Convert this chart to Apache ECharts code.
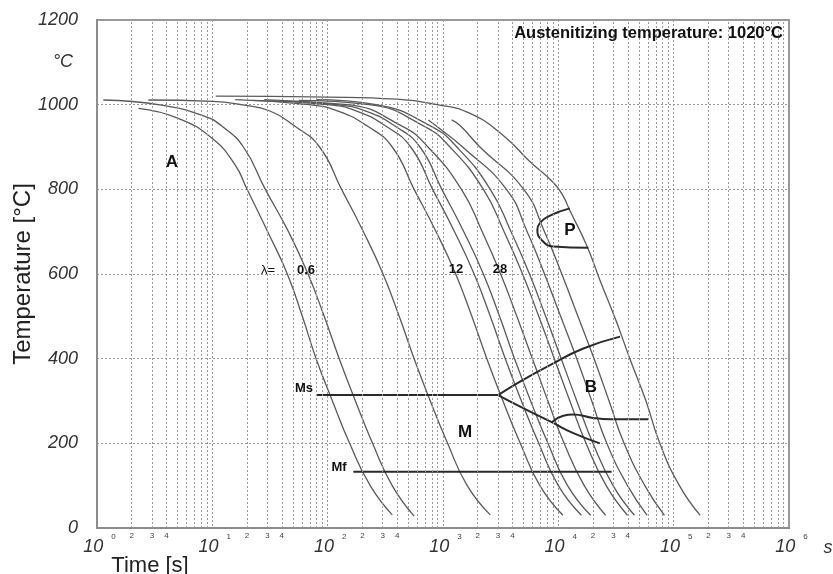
<!DOCTYPE html>
<html>
<head>
<meta charset="utf-8">
<script src="https://cdn.jsdelivr.net/npm/echarts@6/dist/echarts.min.js"></script>
<style>
  html, body { margin: 0; padding: 0; background: #fff; }
  #chart { width: 833px; height: 574px; }
</style>
</head>
<body>
<div id="chart"></div>
<script>
// cooling curves, [time s, temperature °C]
var curveL1 = [[2.29,991],[5.01,968],[10,920],[15.8,857],[20,800],[30.2,700],[44.7,600],[60.3,500],[79.4,400],[110,300],[155,200],[234,100],[363,31]];
var curveL2 = [[1.135,1011],[3.63,999],[8.71,972],[12,950],[18.6,900],[28.8,800],[45.7,700],[67.6,600],[93.3,500],[126,400],[174,300],[245,200],[363,100],[562,28]];
var curveL3 = [[2.79,1011],[10,1008],[17.8,1000],[31.6,985],[51.3,950],[85.1,900],[132,800],[204,700],[302,600],[417,500],[562,400],[776,300],[1096,200],[1622,100],[2570,31]];
var curveR1 = [[15.8,1012],[69.2,1000],[123,985],[219,950],[363,900],[562,800],[871,700],[1288,600],[1778,500],[2399,400],[3311,300],[4677,200],[6918,100],[10965,30]];
var curveR2 = [[22.4,1010],[100,1000],[178,985],[316,950],[525,900],[813,800],[1259,700],[1862,600],[2570,500],[3467,400],[4786,300],[6761,200],[10000,100],[15849,30]];
var curveR3 = [[28.2,1012],[120,1000],[214,985],[380,950],[631,900],[977,800],[1514,700],[2239,600],[3090,500],[4169,400],[5754,300],[8128,200],[12023,100],[19055,30]];
var curveR4 = [[39.8,1008],[148,1000],[437,950],[741,900],[1445,800],[2188,700],[3162,600],[4365,500],[5957,400],[8128,300],[11220,200],[16788,100],[25704,30]];
var curveR5 = [[56.2,1010],[229,1000],[676,950],[1148,900],[2239,800],[3388,700],[4898,600],[6761,500],[9226,400],[12589,300],[17378,200],[26002,100],[39811,30]];
var curveR6 = [[79.4,1012],[263,1000],[776,950],[1318,900],[2570,800],[3890,700],[5623,600],[7762,500],[10593,400],[14454,300],[19953,200],[29854,100],[45709,30]];
var curveR7 = [[746,964],[871,950],[1479,900],[3548,800],[5370,700],[7586,600],[10471,500],[14454,400],[19498,300],[26303,200],[39811,100],[58884,30]];
var curveR8 = [[1189,964],[1413,950],[2089,900],[5012,800],[7586,700],[10715,600],[14791,500],[20417,400],[27542,300],[37154,200],[56234,100],[83176,30]];
var curveR9 = [[10.7,1020],[100,1018],[398,1013],[891,1000],[1698,980],[3311,928],[5689,865],[9120,815],[10965,785],[12589,750],[17579,668],[22909,586],[31623,490],[41687,400],[57544,300],[75858,200],[112202,100],[169824,30]];

// transformation lines
var msLine = [[80.4,314],[3000,314]];
var mfLine = [[167,133],[28973,133]];
var bainiteStart = [[3000,314],[4656,346],[8472,385],[16482,424],[34277,452]];
var bainiteLower = [[3000,314],[5309,279],[8750,250],[13490,224],[22909,200]];
var bainiteFinish = [[8750,250],[11041,265],[13490,268],[19953,260],[28054,257],[60256,257]];
var pearlite = [[12589,755],[8472,738],[6918,720],[6577,704],[7178,680],[9057,665],[18197,662]];

var decades = [1, 10, 100, 1000, 10000, 100000];
var minorSteps = [2, 3, 4, 5, 6, 7, 8, 9];
var minorLabelSteps = [2, 3, 4];

var FONT = "'Liberation Sans', Arial, sans-serif";
var chart = echarts.init(document.getElementById('chart'));

var coolingCurves = [curveL1, curveL2, curveL3, curveR1, curveR2, curveR3, curveR4, curveR5, curveR6, curveR7, curveR8, curveR9];
var phaseLines = [
  { data: msLine, smooth: false },
  { data: mfLine, smooth: false },
  { data: bainiteStart, smooth: true },
  { data: bainiteLower, smooth: true },
  { data: bainiteFinish, smooth: true },
  { data: pearlite, smooth: true }
];

var gridLines = [];
decades.forEach(function (d) {
  minorSteps.forEach(function (m) {
    gridLines.push({
      xAxis: d * m,
      label: { show: minorLabelSteps.indexOf(m) >= 0, formatter: String(m) }
    });
  });
});

var series = [{
  type: 'line',
  data: [],
  silent: true,
  markLine: {
    silent: true,
    animation: false,
    symbol: ['none', 'none'],
    lineStyle: { type: [2, 2], color: '#9a9a9a', width: 1 },
    label: { position: 'start', fontSize: 8, color: '#444', distance: 4, fontFamily: FONT },
    data: gridLines
  }
}];

coolingCurves.forEach(function (c) {
  series.push({
    type: 'line',
    data: c,
    smooth: 0.5,
    showSymbol: false,
    lineStyle: { color: '#5a5a5a', width: 1.3 },
    z: 3
  });
});
phaseLines.forEach(function (p) {
  series.push({
    type: 'line',
    data: p.data,
    smooth: p.smooth,
    showSymbol: false,
    lineStyle: { color: '#2a2a2a', width: 2 },
    z: 4
  });
});

function label(text, x, y, size, bold) {
  return {
    type: 'text', x: x, y: y, z: 10,
    style: {
      text: text, fontSize: size, fontWeight: bold ? 'bold' : 'normal',
      fontFamily: FONT, fill: '#111', align: 'center', verticalAlign: 'middle'
    }
  };
}

var option = {
  animation: false,
  grid: {
    left: 97, right: 44, top: 20, bottom: 46,
    outerBoundsMode: 'none',
    show: true, borderColor: '#999', borderWidth: 2
  },
  xAxis: {
    type: 'log',
    logBase: 10,
    min: 1,
    max: 1000000,
    splitNumber: 6,
    axisLine: { lineStyle: { color: '#8c8c8c', width: 2 } },
    axisTick: { show: false },
    splitLine: { show: true, lineStyle: { type: [2, 2], color: '#9a9a9a' } },
    axisLabel: {
      margin: 5,
      formatter: function (v) {
        return '{b|10}{e|' + Math.round(Math.log10(v)) + '}';
      },
      rich: {
        b: { fontSize: 18, fontStyle: 'italic', color: '#333', fontFamily: FONT, lineHeight: 20, padding: [0, 0, 0, 5] },
        e: { fontSize: 8, color: '#444', fontFamily: FONT, verticalAlign: 'top', padding: [0, 0, 19, 8] }
      }
    }
  },
  yAxis: {
    type: 'value',
    min: 0,
    max: 1200,
    interval: 200,
    name: 'Temperature [°C]',
    nameLocation: 'middle',
    nameGap: 62,
    nameMoveOverlap: false,
    nameTextStyle: { fontSize: 24, color: '#222', fontFamily: FONT },
    axisLine: { show: true, lineStyle: { color: '#8c8c8c', width: 2 } },
    axisTick: { show: false },
    splitLine: { show: true, lineStyle: { type: [2, 2], color: '#9a9a9a' } },
    axisLabel: {
      margin: 19, fontSize: 18, fontStyle: 'italic', color: '#333', fontFamily: FONT,
      formatter: function (v) { return String(v); }
    }
  },
  graphic: [
    {
      type: 'text', x: 783, y: 33, z: 10,
      style: { text: 'Austenitizing temperature: 1020°C', fontSize: 16.5, fontWeight: 'bold', fontFamily: FONT, fill: '#111', align: 'right', verticalAlign: 'middle' }
    },
    {
      type: 'text', x: 63, y: 62, z: 10,
      style: { text: '°C', fontSize: 18, fontStyle: 'italic', fontFamily: FONT, fill: '#333', align: 'center', verticalAlign: 'middle' }
    },
    {
      type: 'text', x: 150, y: 566, z: 10,
      style: { text: 'Time [s]', fontSize: 22, fontFamily: FONT, fill: '#222', align: 'center', verticalAlign: 'middle' }
    },
    {
      type: 'text', x: 828, y: 548, z: 10,
      style: { text: 's', fontSize: 18, fontStyle: 'italic', fontFamily: FONT, fill: '#333', align: 'center', verticalAlign: 'middle' }
    },
    label('A', 172, 162, 17, true),
    label('P', 570, 230, 17, true),
    label('B', 591, 387, 17, true),
    label('M', 465, 432, 17, true),
    label('Ms', 304, 388, 13, true),
    label('Mf', 339, 467, 13, true),
    label('λ=', 268, 270, 13, false),
    label('0.6', 306, 270, 13, true),
    label('12', 456, 269, 13, true),
    label('28', 500, 269, 13, true)
  ],
  series: series
};

chart.setOption(option);
</script>
</body>
</html>
